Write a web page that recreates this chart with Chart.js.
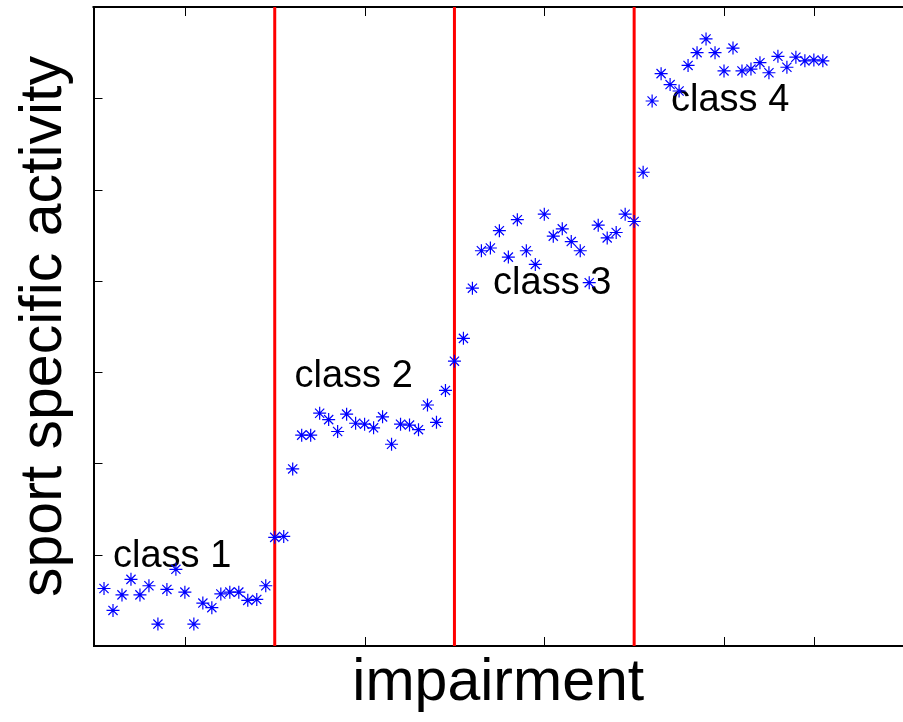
<!DOCTYPE html>
<html>
<head>
<meta charset="utf-8">
<script src="https://cdn.jsdelivr.net/npm/chart.js@4/dist/chart.umd.min.js"></script>
<style>
html, body { margin: 0; padding: 0; background: #ffffff; overflow: hidden; }
#wrap { width: 903px; height: 722px; }
</style>
</head>
<body>
<div id="wrap"><canvas id="c" width="903" height="722"></canvas></div>
<script>
// impairment (x) positions of the measurements
const impairment = [
  0.1, 0.2, 0.3, 0.4, 0.5, 0.6, 0.7, 0.8, 0.9, 1.0,
  1.1, 1.2, 1.3, 1.4, 1.5, 1.6, 1.7, 1.8, 1.9, 2.0,
  2.1, 2.2, 2.3, 2.4, 2.5, 2.6, 2.7, 2.8, 2.9, 3.0,
  3.1, 3.2, 3.3, 3.4, 3.5, 3.6, 3.7, 3.8, 3.9, 4.0,
  4.1, 4.2, 4.3, 4.4, 4.5, 4.6, 4.7, 4.8, 4.9, 5.0,
  5.1, 5.2, 5.3, 5.4, 5.5, 5.6, 5.7, 5.8, 5.9, 6.0,
  6.1, 6.2, 6.3, 6.4, 6.5, 6.6, 6.7, 6.8, 6.9, 7.0,
  7.1, 7.2, 7.3, 7.4, 7.5, 7.6, 7.7, 7.8, 7.9, 8.0,
  8.1
];
// sport specific activity (y) values
const activity = [
  0.63, 0.39, 0.56, 0.73, 0.56, 0.66, 0.24, 0.62, 0.84, 0.59,
  0.24, 0.47, 0.42, 0.57, 0.59, 0.59, 0.50, 0.51, 0.66, 1.19,
  1.20, 1.94, 2.31, 2.31, 2.55, 2.48, 2.35, 2.54, 2.44, 2.43,
  2.39, 2.51, 2.21, 2.43, 2.42, 2.37, 2.64, 2.45, 2.80, 3.12,
  3.37, 3.92, 4.33, 4.36, 4.55, 4.26, 4.67, 4.33, 4.18, 4.73,
  4.49, 4.57, 4.43, 4.33, 3.98, 4.61, 4.47, 4.53, 4.73, 4.65,
  5.19, 5.97, 6.27, 6.15, 6.08, 6.36, 6.50, 6.65, 6.50, 6.30,
  6.55, 6.30, 6.32, 6.39, 6.28, 6.46, 6.34, 6.45, 6.41, 6.42,
  6.41
];
// class boundaries (red vertical lines)
const classBoundaries = [2, 4, 6];
// class annotations: text and anchor (left / baseline) in data units
const classLabels = ['class 1', 'class 2', 'class 3', 'class 4'];
const classLabelX = [0.20, 2.22, 4.43, 6.41];
const classLabelY = [0.86, 2.84, 3.86, 5.86];
// tick positions (tick labels are not shown)
const xTicks = [1, 2, 3, 4, 5, 6, 7, 8];
const yTicks = [1, 2, 3, 4, 5, 6];

const FONT = '"Liberation Sans", Arial, Helvetica, sans-serif';

const datasets = [{
  label: 'data',
  data: impairment.map((x, i) => ({ x: x, y: activity[i] })),
  pointStyle: 'star',
  pointRadius: 6.5,
  pointBorderWidth: 1.2,
  borderColor: '#0000ff',
  backgroundColor: '#0000ff',
  showLine: false,
  order: 0
}];
classBoundaries.forEach((b, i) => {
  datasets.push({
    label: 'boundary ' + (i + 1),
    data: [{ x: b, y: 0 }, { x: b, y: 7 }],
    showLine: true,
    borderColor: '#ff0000',
    borderWidth: 3,
    pointRadius: 0,
    order: 1
  });
});

const decorations = {
  id: 'decorations',
  beforeDatasetsDraw(chart) {
    const ctx = chart.ctx;
    const xs = chart.scales.x, ys = chart.scales.y;
    const a = chart.chartArea;
    ctx.save();
    // top border
    ctx.strokeStyle = '#000000';
    ctx.lineWidth = 2;
    ctx.beginPath();
    ctx.moveTo(a.left - 1, a.top);
    ctx.lineTo(a.right, a.top);
    ctx.stroke();
    // inward tick marks
    ctx.lineWidth = 1;
    const tl = 9;
    xTicks.forEach(v => {
      const px = Math.round(xs.getPixelForValue(v)) + 0.5;
      ctx.beginPath();
      ctx.moveTo(px, a.bottom); ctx.lineTo(px, a.bottom - tl);
      ctx.moveTo(px, a.top); ctx.lineTo(px, a.top + tl);
      ctx.stroke();
    });
    yTicks.forEach(v => {
      const py = Math.round(ys.getPixelForValue(v)) + 0.5;
      ctx.beginPath();
      ctx.moveTo(a.left, py); ctx.lineTo(a.left + tl, py);
      ctx.stroke();
    });
    // class annotations
    ctx.fillStyle = '#000000';
    ctx.font = '38px ' + FONT;
    ctx.textAlign = 'left';
    ctx.textBaseline = 'alphabetic';
    classLabels.forEach((t, i) => {
      ctx.fillText(t, xs.getPixelForValue(classLabelX[i]), ys.getPixelForValue(classLabelY[i]));
    });
    ctx.restore();
  }
};

new Chart(document.getElementById('c'), {
  type: 'scatter',
  data: { datasets: datasets },
  options: {
    responsive: false,
    animation: false,
    devicePixelRatio: 1,
    layout: { autoPadding: false, padding: { top: 7, right: 0, left: 0, bottom: 0 } },
    plugins: { legend: { display: false }, tooltip: { enabled: false } },
    scales: {
      x: {
        type: 'linear', position: 'bottom', min: -0.017, max: 8.992,
        grid: { display: false, drawTicks: false },
        border: { display: true, color: '#000000', width: 2 },
        ticks: { display: false },
        title: {
          display: true, text: 'impairment', color: '#000000',
          font: { family: FONT, size: 59, lineHeight: 1.2 },
          padding: { top: 2.6, bottom: 2.6 }
        }
      },
      y: {
        type: 'linear', position: 'left', min: 0, max: 7,
        grid: { display: false, drawTicks: false },
        border: { display: true, color: '#000000', width: 2 },
        ticks: { display: false },
        title: {
          display: true, text: 'sport specific activity', color: '#000000',
          font: { family: FONT, size: 59, lineHeight: 1.2 },
          padding: { top: 9, bottom: 13.7 }
        }
      }
    }
  },
  plugins: [decorations]
});
</script>
</body>
</html>
